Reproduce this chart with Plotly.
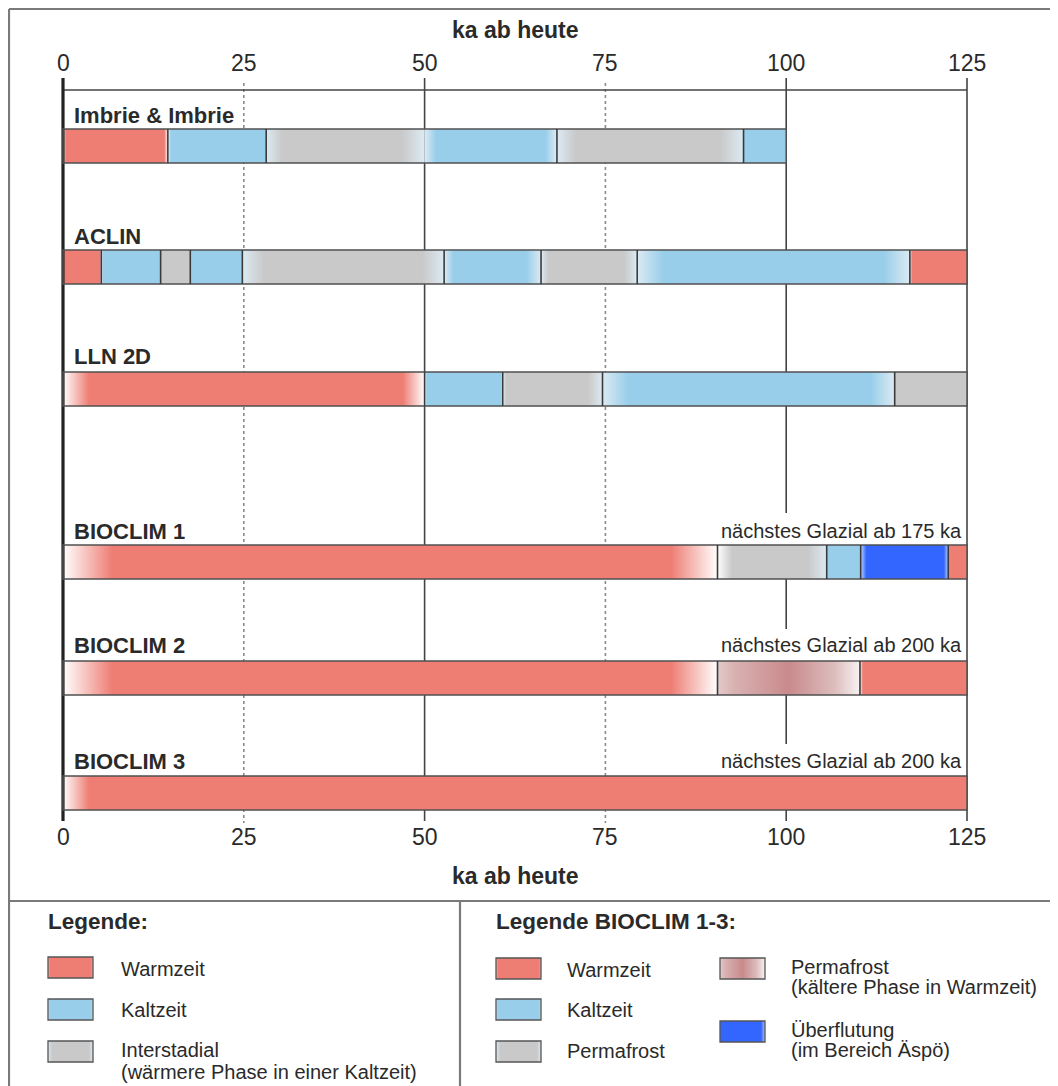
import plotly.graph_objects as go

# ============================ DATA ============================
row_names = ["Imbrie & Imbrie", "ACLIN", "LLN 2D", "BIOCLIM 1", "BIOCLIM 2", "BIOCLIM 3"]

imbrie_bounds = [0, 14.5, 28.1, 50, 68.3, 94.1, 100]
imbrie_phases = ["warm", "cold", "inter", "cold", "inter", "cold"]

aclin_bounds = [0, 5.3, 13.5, 17.6, 24.8, 52.7, 66.1, 79.4, 117.1, 125]
aclin_phases = ["warm", "cold", "inter", "cold", "inter", "cold", "inter", "cold", "warm"]

lln_bounds = [0, 50, 60.8, 74.6, 115.0, 125]
lln_phases = ["warm", "cold", "inter", "cold", "inter"]

bio1_bounds = [0, 90.5, 105.6, 110.3, 122.4, 125]
bio1_phases = ["warm", "inter", "cold", "flood", "warm"]

bio2_bounds = [0, 90.5, 110.2, 125]
bio2_phases = ["warm", "permawarm", "warm"]

bio3_bounds = [0, 125]
bio3_phases = ["warm"]

bio_notes = ["nächstes Glazial ab 175 ka", "nächstes Glazial ab 200 ka", "nächstes Glazial ab 200 ka"]

tick_vals = [0, 25, 50, 75, 100, 125]
dotted_ticks = [25, 75]
axis_title = "ka ab heute"

legend1_title = "Legende:"
legend1_labels = ["Warmzeit", "Kaltzeit", "Interstadial"]
legend1_notes = ["", "", "(wärmere Phase in einer Kaltzeit)"]
legend1_phases = ["warm", "cold", "inter"]

legend2_title = "Legende BIOCLIM 1-3:"
legend2_labels = ["Warmzeit", "Kaltzeit", "Permafrost", "Permafrost", "Überflutung"]
legend2_notes = ["", "", "", "(kältere Phase in Warmzeit)", "(im Bereich Äspö)"]
legend2_phases = ["warm", "cold", "inter", "permawarm", "flood"]

rows_bounds = [imbrie_bounds, aclin_bounds, lln_bounds, bio1_bounds, bio2_bounds, bio3_bounds]
rows_phases = [imbrie_phases, aclin_phases, lln_phases, bio1_phases, bio2_phases, bio3_phases]

# ============================ STYLE ============================
PAGE_W, PAGE_H = 1058, 1086
OFF = 8                       # default body margin of the html page
W, H = PAGE_W - OFF, PAGE_H - OFF
PX0, PX125 = 63.0, 967.0      # page pixel positions of 0 ka and 125 ka
K = (PX125 - PX0) / 125.0
x_range = [(OFF - PX0) / K, (PAGE_W - PX0) / K]

FONT = "Liberation Sans, Arial, sans-serif"
TXT = "#2a2a2a"
LINE = "#444444"
FRAME = "#7a7a7a"

COL = {"warm": "#EE7E74", "cold": "#98CEEA", "inter": "#C9C9C9", "flood": "#3366FF"}
PERMAWARM_SCALE = [[0, "#E4CACA"], [0.12, "#D9B1B1"], [0.5, "#C98A8C"],
                   [0.82, "#DDBDBD"], [1, "#F8F2F2"]]
WH = "#FFFFFF"
LB = "#DCEAF3"
FB = "#BCD0FF"

bar_top = [129, 250, 372, 545, 661, 776]
BAR_H = 34
label_y = [115, 236, 356, 531, 645, 761]
label_px = 72
note_px = 964

# fades per segment: (left width ka, left colour, right width ka, right colour)
fades = [
    [(0.4, WH, 0.5, WH), (0.4, WH, 0, None), (2.2, LB, 3.2, LB), (1.6, LB, 1.6, LB),
     (2.6, LB, 3.2, LB), (0, None, 0, None)],
    [(0, None, 0.2, WH), (0.3, WH, 0, None), (0, None, 0, None), (0, None, 0, None),
     (3.0, LB, 3.0, LB), (1.3, LB, 2.0, LB), (1.0, LB, 1.8, LB), (3.6, LB, 3.6, LB),
     (0.3, WH, 0, None)],
    [(3.6, WH, 3.0, WH), (0.3, WH, 0.3, LB), (0.5, LB, 2.0, LB), (3.6, LB, 3.3, LB),
     (0, None, 0, None)],
    [(6.8, WH, 6.4, WH), (2.0, WH, 2.6, LB), (0, None, 0, None), (0.8, FB, 0.6, FB),
     (0, None, 0, None)],
    [(6.8, WH, 6.4, WH), None, (0.4, WH, 0, None)],
    [(3.6, WH, 0, None)],
]
no_divider = {(0, 50)}


def scale(base, lw, lc, rw, rc, length):
    cs = []
    if lw > 0:
        cs += [[0, lc], [lw / length, base]]
    else:
        cs += [[0, base]]
    if rw > 0:
        cs += [[1 - rw / length, base], [1, rc]]
    else:
        cs += [[1, base]]
    return cs


fig = go.Figure()
shapes = []
annotations = []


def add_block(xa, ya, a, b, y0, y1, cs):
    fig.add_trace(go.Scatter(
        x=[a, b, b, a, a], y=[y0, y0, y1, y1, y0], xaxis=xa, yaxis=ya,
        mode="lines", fill="toself", line=dict(width=0, color="rgba(0,0,0,0)"),
        fillgradient=dict(type="horizontal", colorscale=cs, start=a, stop=b),
        hoverinfo="skip", showlegend=False))


def txt(x, y, text, size, xref="x2", xanchor="left", bold=False):
    annotations.append(dict(
        x=x, y=y, xref=xref, yref="y", text=(f"<b>{text}</b>" if bold else text),
        showarrow=False, xanchor=xanchor, yanchor="middle",
        font=dict(family=FONT, size=size, color=TXT)))


# ---------------- grid / tick lines ----------------
LINE_TOP, LINE_BOT = 78, 821
note_rows = [3, 4, 5]
for v in tick_vals:
    if v in dotted_ticks:
        shapes.append(dict(type="line", xref="x", yref="y", x0=v, x1=v, y0=83, y1=823,
                           line=dict(color="#8a8a8a", width=1.6, dash="dot"), layer="below"))
    elif v == tick_vals[0]:
        shapes.append(dict(type="line", xref="x", yref="y", x0=v, x1=v, y0=LINE_TOP, y1=LINE_BOT,
                           line=dict(color="#222222", width=3.2), layer="above"))
    elif v == 100:
        cuts = [(bar_top[r] - 32, bar_top[r]) for r in note_rows]
        start = LINE_TOP
        for c0, c1 in cuts:
            shapes.append(dict(type="line", xref="x", yref="y", x0=v, x1=v, y0=start, y1=c0,
                               line=dict(color=LINE, width=1.6), layer="below"))
            start = c1
        shapes.append(dict(type="line", xref="x", yref="y", x0=v, x1=v, y0=start, y1=LINE_BOT,
                           line=dict(color=LINE, width=1.6), layer="below"))
    else:
        shapes.append(dict(type="line", xref="x", yref="y", x0=v, x1=v, y0=LINE_TOP, y1=LINE_BOT,
                           line=dict(color=LINE, width=1.6), layer="below"))

# top horizontal axis line
shapes.append(dict(type="line", xref="x", yref="y", x0=tick_vals[0], x1=tick_vals[-1], y0=90, y1=90,
                   line=dict(color=LINE, width=1.6), layer="below"))

# tick labels
for v in tick_vals:
    txt(v, 63, str(v), 23, xref="x", xanchor="center")
    txt(v, 837, str(v), 23, xref="x", xanchor="center")
mid = (tick_vals[0] + tick_vals[-1]) / 2
txt(mid, 30, axis_title, 23, xref="x", xanchor="center", bold=True)
txt(mid, 876, axis_title, 23, xref="x", xanchor="center", bold=True)

# ---------------- bars ----------------
for i, (bounds, phases) in enumerate(zip(rows_bounds, rows_phases)):
    y0 = bar_top[i]
    y1 = y0 + BAR_H
    for j, ph in enumerate(phases):
        a, b = bounds[j], bounds[j + 1]
        if ph == "permawarm":
            cs = PERMAWARM_SCALE
        else:
            lw, lc, rw, rc = fades[i][j]
            cs = scale(COL[ph], lw, lc, rw, rc, b - a)
        add_block("x", "y", a, b, y0, y1, cs)
    shapes.append(dict(type="rect", xref="x", yref="y", x0=bounds[0], x1=bounds[-1], y0=y0, y1=y1,
                       line=dict(color="#505050", width=1.5), fillcolor="rgba(0,0,0,0)", layer="above"))
    for bnd in bounds[1:-1]:
        if (i, bnd) in no_divider:
            continue
        shapes.append(dict(type="line", xref="x", yref="y", x0=bnd, x1=bnd, y0=y0, y1=y1,
                           line=dict(color="#3a3a3a", width=1.6), layer="above"))
    txt(label_px, label_y[i], row_names[i], 22, bold=True)

for r, note in zip(note_rows, bio_notes):
    txt(note_px, label_y[r], note, 20, xanchor="right")

# ---------------- frame ----------------
for sh in [dict(x0=9, x1=PAGE_W, y0=9, y1=9), dict(x0=9, x1=9, y0=9, y1=PAGE_H),
           dict(x0=9, x1=PAGE_W, y0=901, y1=901), dict(x0=460, x1=460, y0=901, y1=PAGE_H)]:
    shapes.append(dict(type="line", xref="x2", yref="y", line=dict(color=FRAME, width=2.2),
                       layer="above", **sh))

# ---------------- legends ----------------
SW, SH = 45, 21
LEG_FADE = {"inter": (4, LB, 4, LB), "cold": (2, "#C8E3F2", 2, "#C8E3F2"),
            "warm": (2, "#F4B0AA", 2, "#F4B0AA"), "flood": (3, "#3366FF", 4, "#AFC4FF")}


def swatch(x, y, ph):
    if ph == "permawarm":
        cs = PERMAWARM_SCALE
    else:
        lw, lc, rw, rc = LEG_FADE[ph]
        cs = scale(COL[ph], lw, lc, rw, rc, SW)
    add_block("x2", "y", x, x + SW, y, y + SH, cs)
    shapes.append(dict(type="rect", xref="x2", yref="y", x0=x, x1=x + SW, y0=y, y1=y + SH,
                       line=dict(color="#555555", width=1.3), fillcolor="rgba(0,0,0,0)"))


txt(46, 921, legend1_title, 22.5, bold=True)
leg1_sw_y = [957, 999, 1041]
leg1_txt_y = [969, 1010, 1050]
for k, (lab, note, ph) in enumerate(zip(legend1_labels, legend1_notes, legend1_phases)):
    swatch(48, leg1_sw_y[k], ph)
    txt(119, leg1_txt_y[k], lab, 20)
    if note:
        txt(119, leg1_txt_y[k] + 22, note, 20)

txt(494, 921, legend2_title, 22.5, bold=True)
leg2_sw = [(496, 958), (496, 999), (496, 1041), (720, 958), (720, 1021)]
leg2_txt = [(565, 970), (565, 1010), (565, 1051), (789, 967), (789, 1030)]
for k, (lab, note, ph) in enumerate(zip(legend2_labels, legend2_notes, legend2_phases)):
    swatch(leg2_sw[k][0], leg2_sw[k][1], ph)
    txt(leg2_txt[k][0], leg2_txt[k][1], lab, 20)
    if note:
        txt(leg2_txt[k][0], leg2_txt[k][1] + 20, note, 20)

fig.update_layout(
    width=W, height=H, margin=dict(l=0, r=0, t=0, b=0),
    paper_bgcolor="white", plot_bgcolor="white",
    xaxis=dict(range=x_range, domain=[0, 1], visible=False, fixedrange=True),
    xaxis2=dict(range=[OFF, PAGE_W], domain=[0, 1], overlaying="x", anchor="y", visible=False,
                fixedrange=True),
    yaxis=dict(range=[PAGE_H, OFF], domain=[0, 1], visible=False, fixedrange=True),
    shapes=shapes, annotations=annotations, showlegend=False, hovermode=False,
)

fig.write_html("out.html")
